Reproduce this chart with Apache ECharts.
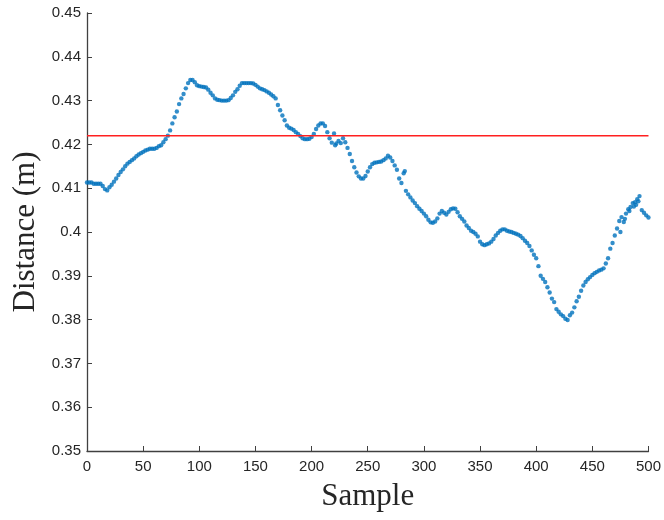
<!DOCTYPE html>
<html>
<head>
<meta charset="utf-8">
<script src="https://cdn.jsdelivr.net/npm/echarts@6/dist/echarts.min.js"></script>
<style>html,body{margin:0;padding:0;background:#fff}#c{width:664px;height:520px}</style>
</head>
<body>
<div id="c"></div>
<script>
// Sample numbers (step 2) and measured distance (m)
const sampleStep = 2;
const distance = [
0.4113,0.4113,0.4113,0.4110,0.4110,0.4110,0.4110,0.4105,0.4098,0.4095,
0.4102,0.4108,0.4115,0.4122,0.4130,0.4137,0.4143,0.4150,0.4156,0.4160,
0.4164,0.4168,0.4173,0.4177,0.4180,0.4183,0.4186,0.4188,0.4190,0.4190,
0.4190,0.4192,0.4196,0.4198,0.4205,0.4212,0.4220,0.4232,0.4248,0.4262,
0.4275,0.4292,0.4305,0.4315,0.4328,0.4340,0.4347,0.4347,0.4342,0.4335,
0.4333,0.4332,0.4331,0.4330,0.4325,0.4318,0.4312,0.4305,0.4302,0.4301,
0.4300,0.4300,0.4300,0.4301,0.4306,0.4312,0.4320,0.4326,0.4334,0.4340,
0.4340,0.4340,0.4340,0.4340,0.4339,0.4336,0.4332,0.4328,0.4326,0.4324,
0.4321,0.4318,0.4314,0.4310,0.4305,0.4290,0.4278,0.4266,0.4255,0.4243,
0.4238,0.4236,0.4233,0.4228,0.4224,0.4219,0.4214,0.4212,0.4212,0.4213,
0.4217,0.4224,0.4235,0.4243,0.4248,0.4248,0.4242,0.4228,0.4214,0.4204,
0.4225,0.4202,0.4208,0.4203,0.4214,0.4205,0.4192,0.4178,0.4162,0.4148,
0.4136,0.4127,0.4122,0.4122,0.4128,0.4138,0.4148,0.4155,0.4158,0.4159,
0.4160,0.4161,0.4164,0.4168,0.4174,0.4170,0.4162,0.4152,0.4142,0.4122,
0.4112,0.4134,0.4094,0.4086,0.4079,0.4072,0.4066,0.4059,0.4053,0.4048,
0.4042,0.4036,0.4028,0.4022,0.4021,0.4024,0.4031,0.4042,0.4048,0.4044,
0.4040,0.4046,0.4052,0.4054,0.4053,0.4045,0.4036,0.4030,0.4024,0.4015,
0.4009,0.4003,0.4000,0.3996,0.3990,0.3978,0.3972,0.3970,0.3972,0.3974,
0.3978,0.3984,0.3992,0.3998,0.4003,0.4006,0.4006,0.4003,0.4001,0.4000,
0.3998,0.3996,0.3994,0.3991,0.3986,0.3980,0.3975,0.3968,0.3958,0.3948,
0.3940,0.3922,0.3900,0.3893,0.3886,0.3874,0.3862,0.3848,0.3840,0.3824,
0.3818,0.3812,0.3808,0.3802,0.3799,0.3810,0.3816,0.3828,0.3842,0.3852,
0.3866,0.3878,0.3886,0.3892,0.3897,0.3902,0.3906,0.3909,0.3912,0.3914,
0.3917,0.3928,0.3940,0.3962,0.3975,0.3992,0.4008,0.4025,0.4034,0.4023,
0.4042,0.4052,0.4057,0.4066,0.4068,0.4075,0.4082,0.4050,0.4044,0.4038,
0.4033
];
// extra scattered readings in the noisy stretches
const extraSamples = [221, 283, 475, 479, 483, 487, 489, 491];
const extraDistance = [0.4198, 0.4139, 0.4000, 0.4030, 0.4048, 0.4058, 0.4062, 0.4070];
const threshold = 0.422;
const xTicks = {min: 0, max: 500, step: 50};
const yTicks = {min: 0.35, max: 0.45, step: 0.01};

const pts = distance.map((v, i) => [i * sampleStep, v]);
extraSamples.forEach((s, i) => pts.push([s, extraDistance[i]]));

const chart = echarts.init(document.getElementById('c'), null, {renderer: 'canvas'});
const axisCol = '#262626';
chart.setOption({
  animation: false,
  backgroundColor: '#fff',
  grid: {left: 87, right: 13, top: 13, bottom: 69, containLabel: false},
  xAxis: {
    type: 'value', min: xTicks.min, max: xTicks.max, interval: xTicks.step,
    name: 'Sample', nameLocation: 'middle', nameGap: 30,
    nameTextStyle: {fontFamily: 'Liberation Serif', fontSize: 31, color: axisCol},
    axisLine: {show: true, onZero: false, lineStyle: {color: '#404040', width: 1.3}},
    axisTick: {show: true, inside: true, length: 5, lineStyle: {color: '#404040'}},
    axisLabel: {fontFamily: 'Liberation Sans', fontSize: 15, color: axisCol, margin: 8},
    splitLine: {show: false}
  },
  yAxis: {
    type: 'value', min: yTicks.min, max: yTicks.max, interval: yTicks.step,
    name: 'Distance (m)', nameLocation: 'middle', nameGap: 44, nameRotate: 90,
    nameTextStyle: {fontFamily: 'Liberation Serif', fontSize: 31, color: axisCol},
    axisLine: {show: true, onZero: false, lineStyle: {color: '#404040', width: 1.3}},
    axisTick: {show: true, inside: true, length: 5, lineStyle: {color: '#404040'}},
    axisLabel: {fontFamily: 'Liberation Sans', fontSize: 15, color: axisCol, margin: 6,
      formatter: v => String(parseFloat(v.toFixed(2)))},
    splitLine: {show: false}
  },
  series: [
    {
      type: 'scatter', data: pts, symbol: 'circle', symbolSize: 4.4,
      itemStyle: {color: '#0072BD'}, z: 2
    },
    {
      type: 'line', data: [[xTicks.min, threshold], [xTicks.max, threshold]],
      symbol: 'none', lineStyle: {color: '#FF2020', width: 1.5}, z: 3
    }
  ]
});
</script>
</body>
</html>
